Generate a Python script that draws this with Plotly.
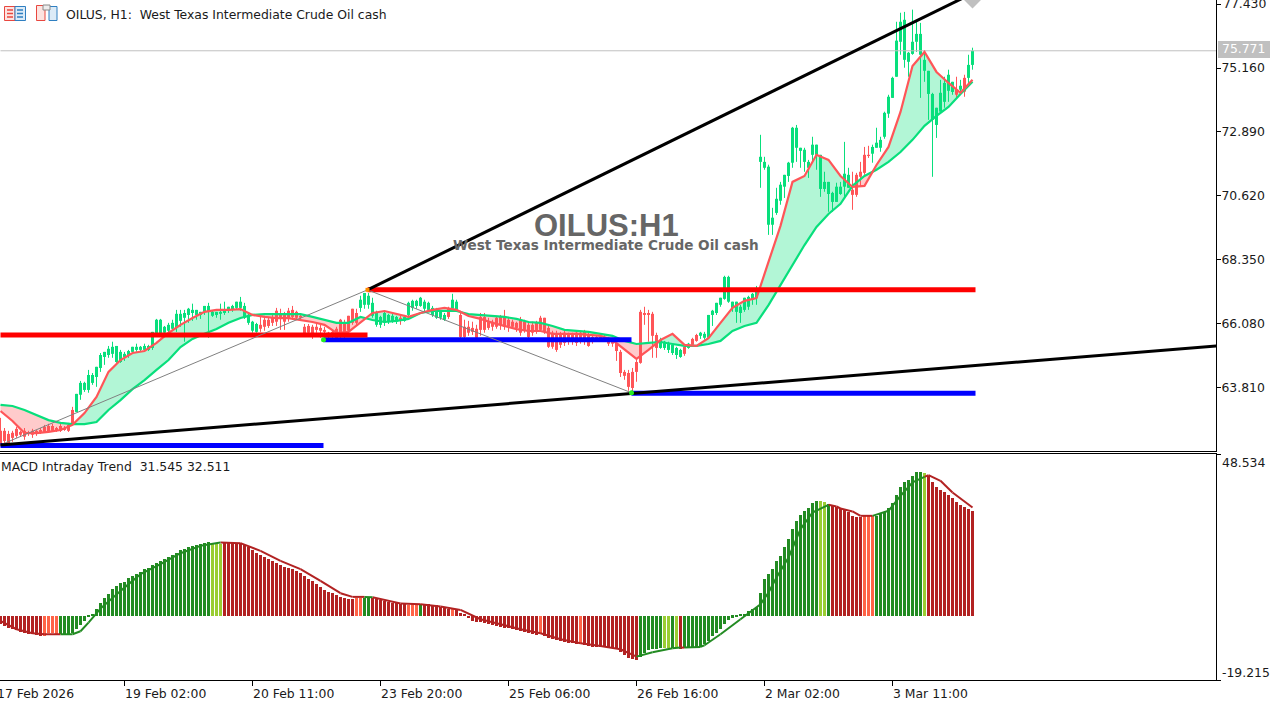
import plotly.graph_objects as go

# OILUS H1 candles, one entry per bar
open_p = [62.29,62.29,62.18,62.22,62.36,62.25,62.29,62.22,62.29,62.29,
62.32,62.43,62.46,62.46,62.39,62.46,62.39,62.50,63.03,62.96,
63.57,63.74,63.74,63.99,64.20,64.52,64.91,64.98,65.02,64.73,
64.73,64.91,64.98,65.09,65.16,65.16,65.16,65.16,65.23,65.69,
65.73,65.77,65.84,65.91,65.94,66.19,66.30,66.40,66.47,66.40,
66.40,66.51,66.51,66.37,66.40,66.44,66.47,66.58,66.58,66.65,
66.65,66.30,66.12,65.84,65.80,66.05,66.23,66.23,66.30,66.55,
66.47,66.40,66.55,66.58,66.51,66.37,65.98,66.01,65.98,65.98,
65.94,65.87,65.77,65.80,65.91,66.23,66.12,66.37,66.62,66.47,
66.65,66.76,66.76,66.37,66.05,66.05,66.12,66.16,66.16,66.16,
66.30,66.19,66.40,66.65,66.72,66.72,66.62,66.58,66.40,66.30,
66.30,66.23,66.65,66.62,66.58,66.40,65.98,65.98,65.94,65.91,
66.33,66.33,66.16,66.16,66.30,66.33,66.33,66.23,66.16,66.12,
66.23,66.16,66.05,66.05,66.12,66.30,66.30,65.94,65.77,65.73,
65.69,65.77,65.69,65.69,65.77,65.77,65.80,65.69,65.62,65.62,
65.62,65.62,65.59,65.52,65.41,65.09,64.38,64.34,64.38,64.73,
66.51,66.47,66.47,66.44,65.69,65.23,65.23,65.16,65.05,64.98,
64.91,65.27,65.23,65.55,65.69,65.66,65.59,65.59,66.40,66.47,
66.76,66.97,66.87,66.65,66.51,66.47,66.58,66.69,66.94,67.01,
71.83,71.62,69.60,69.60,70.02,70.45,70.95,71.33,71.80,72.33,
72.22,71.83,71.62,72.08,72.08,70.87,70.87,70.69,70.41,70.41,
70.69,70.95,70.91,70.84,71.37,71.48,72.08,72.08,72.12,72.33,
72.33,72.72,73.54,74.10,74.85,76.09,75.45,75.38,75.66,76.09,
75.63,75.06,74.24,73.32,73.14,73.61,73.96,74.35,74.31,74.39,
74.39,74.81,74.81,75.27]
high_p = [62.75,62.39,62.29,62.29,62.43,62.29,62.39,62.29,62.36,62.32,
62.39,62.50,62.54,62.54,62.43,62.54,62.46,62.57,63.14,63.60,
64.06,64.03,64.45,64.34,64.56,65.05,65.09,65.30,65.45,65.30,
65.16,65.09,65.16,65.27,65.38,65.30,65.38,65.34,65.80,66.26,
66.26,66.01,66.12,66.23,66.58,66.58,66.58,66.65,66.80,66.58,
66.51,66.72,66.83,66.55,66.51,66.80,66.87,66.69,66.76,66.87,
67.04,66.83,66.47,66.19,66.12,66.33,66.37,66.30,66.47,66.65,
66.62,66.51,66.65,66.72,66.55,66.40,66.08,66.08,66.05,66.08,
66.05,65.98,65.80,65.87,65.98,66.26,66.23,66.37,66.62,66.62,
67.08,67.18,67.18,67.01,66.55,66.37,66.51,66.44,66.44,66.37,
66.37,66.40,66.87,66.94,66.94,67.04,66.94,66.87,66.72,66.65,
66.55,66.47,66.69,67.15,66.94,66.55,66.23,66.19,66.16,66.05,
66.47,66.47,66.30,66.23,66.37,66.40,66.58,66.33,66.23,66.16,
66.33,66.23,66.16,66.16,66.19,66.37,66.30,66.01,65.84,65.84,
65.80,65.84,65.77,65.77,65.84,65.80,65.87,65.77,65.69,65.69,
65.69,65.69,65.62,65.59,65.48,65.16,64.45,64.45,64.52,64.81,
66.58,66.69,66.58,66.51,65.77,65.59,65.48,65.45,65.34,65.27,
65.20,65.27,65.41,65.59,65.73,65.80,65.80,66.40,66.58,66.83,
67.01,67.79,67.79,66.87,66.87,66.76,67.01,67.08,67.18,67.43,
72.79,72.01,71.73,70.20,70.91,71.12,71.37,71.83,73.07,73.14,
72.33,72.33,71.90,72.72,72.44,72.08,71.48,71.12,70.77,71.09,
71.12,72.54,71.62,71.48,71.44,71.83,72.36,72.40,72.44,73.04,
72.72,73.61,74.21,74.85,76.80,77.12,77.15,75.73,77.23,76.80,
76.76,75.73,75.06,74.28,73.75,74.74,74.85,75.10,74.67,74.85,
74.74,74.92,75.63,75.88]
low_p = [61.76,61.76,61.72,61.90,62.04,62.08,61.97,62.11,62.04,62.11,
62.18,62.22,62.22,62.25,62.25,62.25,62.29,62.25,62.50,62.96,
63.39,63.67,63.64,63.92,63.85,64.38,64.63,64.88,64.88,64.70,
64.70,64.77,64.88,65.09,65.09,65.09,65.12,65.12,65.16,65.62,
65.69,65.69,65.77,65.87,65.80,65.98,65.45,66.12,66.19,66.23,
66.26,66.40,65.59,66.33,66.30,66.23,66.40,66.47,66.51,66.58,
66.55,66.26,66.05,65.77,65.77,65.80,65.84,65.94,66.01,66.01,
65.87,65.87,66.16,66.23,66.23,66.23,65.62,65.62,65.55,65.77,
65.59,65.55,65.52,65.52,65.48,65.52,65.48,65.77,66.05,66.05,
66.51,66.62,66.62,66.30,65.98,65.94,66.01,66.08,66.12,66.08,
66.05,66.16,66.30,66.55,66.62,66.69,66.51,66.55,66.33,66.26,
66.23,66.19,66.26,66.55,66.51,65.55,65.52,65.66,65.69,65.52,
65.66,65.77,65.87,65.84,65.91,65.87,65.87,65.80,65.91,65.80,
65.66,65.77,65.52,65.66,65.73,65.80,65.73,65.23,65.20,65.09,
65.23,65.30,65.34,65.34,65.30,65.38,65.34,65.27,65.38,65.45,
65.45,65.45,65.30,65.27,64.77,64.20,64.10,63.71,63.67,64.03,
64.67,66.05,65.45,64.88,64.88,65.20,65.16,65.05,64.98,64.84,
64.88,64.95,65.20,65.34,65.45,65.55,65.52,65.59,66.01,66.40,
66.69,66.94,66.83,66.51,66.12,66.12,66.51,66.58,66.76,66.76,
70.91,71.55,69.24,69.24,69.95,70.31,70.55,71.12,71.62,71.83,
71.62,71.48,71.26,71.83,71.55,70.59,70.77,70.06,70.06,70.41,
70.66,70.55,70.91,70.13,70.59,70.94,71.37,71.97,71.80,72.33,
72.19,72.65,73.39,74.10,74.85,75.63,75.17,74.85,75.63,75.73,
74.10,74.67,73.32,71.30,72.68,73.61,73.75,73.96,74.21,74.10,
74.21,74.14,74.56,75.10]
close_p = [61.86,61.93,61.79,62.04,62.11,62.15,62.08,62.18,62.15,62.22,
62.25,62.25,62.25,62.29,62.29,62.29,62.32,62.29,62.54,63.60,
63.99,63.99,64.27,64.27,64.56,64.98,65.09,65.20,65.27,65.30,
65.09,65.02,65.12,65.27,65.27,65.27,65.30,65.30,65.80,66.23,
66.23,65.98,66.05,66.12,66.44,66.44,66.47,66.62,66.58,66.58,
66.51,66.72,66.72,66.51,66.51,66.51,66.55,66.69,66.72,66.87,
66.87,66.72,66.40,66.16,66.08,65.91,65.98,66.01,66.12,66.16,
66.30,66.16,66.30,66.33,66.30,66.30,65.73,65.77,65.66,65.87,
65.84,65.80,65.73,65.69,65.55,65.69,65.73,65.84,66.12,66.12,
66.94,67.18,67.08,66.83,66.47,66.33,66.47,66.40,66.37,66.33,
66.19,66.33,66.83,66.90,66.90,67.01,66.87,66.83,66.65,66.58,
66.51,66.40,66.33,66.94,66.87,65.62,65.62,65.77,65.80,65.59,
65.87,65.87,65.94,65.98,65.98,66.05,65.98,66.01,65.98,65.94,
65.77,65.87,65.62,65.77,65.80,65.87,65.80,65.27,65.27,65.16,
65.34,65.41,65.45,65.48,65.41,65.45,65.45,65.30,65.48,65.52,
65.52,65.48,65.38,65.38,65.12,64.34,64.24,63.85,63.81,64.38,
64.70,66.40,66.40,65.66,65.23,65.52,65.45,65.41,65.34,65.23,
65.16,65.02,65.38,65.34,65.48,65.77,65.73,66.40,66.55,66.83,
67.01,67.75,67.75,66.87,66.87,66.69,67.01,67.04,67.15,67.22,
72.01,71.83,71.66,69.85,70.52,71.02,71.37,71.80,73.04,73.04,
72.33,72.26,71.83,72.44,72.44,72.08,71.12,71.12,70.73,70.95,
70.95,71.41,71.37,70.66,70.66,71.30,71.44,72.04,72.36,72.51,
72.61,73.57,74.14,74.81,76.13,76.80,76.87,75.70,76.09,76.37,
76.37,75.45,75.06,74.24,73.75,74.28,74.63,74.92,74.67,74.21,
74.53,74.32,75.27,75.77]

# the two moving averages, read every third bar
ma_bars = list(range(0, 244, 3))
ma_fast = [62.99,62.64,62.21,62.21,62.25,62.32,62.50,62.92,63.49,64.38,
64.80,65.05,65.12,65.41,65.76,66.05,66.29,66.51,66.58,66.58,
66.61,66.40,66.33,66.29,66.29,66.22,66.15,66.05,65.76,65.80,
66.15,66.47,66.54,66.43,66.33,66.47,66.58,66.65,66.58,66.36,
66.26,66.12,66.01,65.90,65.83,65.83,65.73,65.73,65.73,65.69,
65.66,65.51,65.19,64.84,65.16,65.51,65.73,65.34,65.30,65.58,
66.12,66.65,66.90,67.00,68.28,69.56,71.12,71.33,72.08,71.90,
71.33,70.94,70.98,71.72,72.36,73.60,75.23,75.73,75.02,74.63,
74.28,74.74]
ma_slow = [63.21,63.17,63.03,62.85,62.67,62.57,62.53,62.53,62.60,63.03,
63.38,63.77,64.09,64.45,64.80,65.26,65.55,65.73,65.90,66.12,
66.29,66.40,66.43,66.43,66.43,66.43,66.33,66.22,66.12,66.12,
66.33,66.22,66.15,66.19,66.26,66.47,66.54,66.54,66.54,66.43,
66.40,66.36,66.33,66.26,66.15,66.12,66.01,65.87,65.83,65.80,
65.73,65.66,65.48,65.37,65.41,65.44,65.37,65.30,65.30,65.37,
65.48,65.83,66.01,66.12,66.75,67.46,68.21,68.88,69.52,69.98,
70.34,70.98,71.33,71.55,71.83,72.18,72.61,73.11,73.46,73.78,
74.24,74.67]

# MACD histogram, one entry per bar
macd_hist = [-2.5,-3.0,-3.5,-4.0,-4.3,-4.7,-5.0,-5.3,-5.5,-5.8,
-6.0,-6.0,-5.2,-5.2,-5.3,-5.5,-5.5,-5.5,-5.2,-4.0,
-2.7,-1.5,-0.3,0.3,2.2,3.8,5.3,6.5,8.0,9.0,
9.8,10.3,11.3,12.0,12.7,13.3,14.0,14.5,15.2,16.0,
16.5,17.2,17.8,18.4,19.0,19.7,20.2,20.8,21.0,21.3,
21.6,21.9,22.3,21.7,21.7,21.7,21.9,21.9,21.9,21.9,
21.9,21.3,20.7,19.7,19.0,18.4,17.8,17.2,16.6,16.0,
15.3,14.8,14.3,14.0,13.5,12.8,12.0,11.2,10.5,9.5,
8.7,7.8,7.2,6.8,6.3,5.8,5.3,5.0,5.0,5.5,
5.5,5.5,5.5,5.3,5.1,4.8,4.5,4.2,4.0,3.8,
3.5,3.5,3.2,3.5,3.5,3.5,3.5,3.5,3.3,3.2,
2.8,2.5,2.2,2.0,1.8,1.0,0.5,-0.7,-1.5,-1.8,
-1.8,-2.2,-2.5,-2.8,-3.0,-3.2,-3.5,-3.7,-4.0,-4.2,
-4.5,-4.8,-5.2,-5.5,-5.8,-5.5,-6.0,-6.5,-7.0,-7.2,
-7.5,-7.8,-8.0,-8.2,-8.5,-8.5,-8.8,-9.0,-9.2,-9.3,
-9.3,-9.3,-9.5,-9.7,-10.0,-10.7,-11.8,-12.7,-13.0,-13.2,
-12.2,-11.0,-10.3,-10.0,-9.8,-9.7,-9.7,-9.5,-9.5,-9.5,
-9.8,-9.6,-9.5,-9.5,-9.5,-9.2,-8.5,-7.5,-6.0,-5.2,
-4.0,-2.3,-1.2,-0.5,-0.2,0.3,0.7,1.5,2.2,2.8,
7.0,11.0,12.5,14.2,16.5,18.0,20.8,23.2,26.2,28.5,
30.2,31.3,32.2,33.8,34.3,34.3,34.0,33.5,32.8,32.5,
32.2,31.7,31.0,30.0,29.7,29.5,29.8,29.8,29.8,30.0,
30.4,31.0,32.2,33.8,36.2,38.5,40.0,40.7,41.8,43.0,
43.0,42.8,42.0,40.0,38.7,37.8,37.2,36.3,35.2,34.2,
33.2,32.5,32.0,31.545]
# r falling, o falling weaker, g rising, y rising weaker
hist_codes = ("r"*11 + "o"*4 + "g"*38 + "y"*3 + "r"*33 + "o"*2 + "g"*2 + "r"*9 + "o"*3 + "g" +
              "r"*7 + "o" + "r"*21 + "o" + "r"*9 + "o" + "r"*14 + "g"*6 + "yy" + "g" + "y" + "r" +
              "g"*34 + "yy" + "g" + "r"*8 + "o"*3 + "g"*12 + "y" + "r"*12)
hist_palette = {"r": "#B22222", "o": "#FF6347", "g": "#228B22", "y": "#9ACD32"}

signal_bars = [0,4,8,11,15,18,20,22,25,30,35,40,45,50,55,60,65,70,75,80,85,88,91,93,100,105,
               110,115,120,125,130,135,140,145,150,155,159,163,168,170,171,175,176,180,185,190,
               192,194,197,200,203,207,209,210,213,215,218,222,225,228,231,232,235,238,243]
signal_vals = [-1.5,-4.0,-5.2,-5.5,-5.5,-5.5,-4.6,-2.0,2.2,7.5,12.5,15.5,18.8,21.0,22.0,21.8,19.5,16.5,14.0,10.5,6.8,5.7,5.7,5.6,3.7,3.5,
               2.8,1.8,-1.0,-2.5,-4.0,-5.2,-7.0,-8.2,-9.0,-10.0,-12.2,-10.9,-9.7,-9.5,-9.5,-9.3,-8.8,-5.5,-1.0,3.5,
               7.0,11.5,17.5,26.0,31.0,33.3,32.8,32.2,31.3,30.0,30.0,31.5,36.0,40.0,41.7,42.2,40.5,37.0,32.511]
signal_green_spans = [(15, 55), (91, 93), (159, 170), (171, 207), (218, 231)]

price_ticks = [77.430, 75.160, 72.890, 70.620, 68.350, 66.080, 63.810]
price_labels = ["77.430", "75.160", "72.890", "70.620", "68.350", "66.080", "63.810"]
macd_ticks = [48.534, -19.215]
macd_labels = ["48.534", "-19.215"]
time_bars = [-1, 31, 63, 95, 127, 159, 191, 223]
time_labels = ["17 Feb 2026", "19 Feb 02:00", "20 Feb 11:00", "23 Feb 20:00",
               "25 Feb 06:00", "26 Feb 16:00", "2 Mar 02:00", "3 Mar 11:00"]
last_price = 75.771

# analysis objects drawn on the chart: (bar from, bar to, price)
red_levels = [(0, 91.75, 65.69), (91.75, 243.75, 67.29)]
blue_levels = [(0, 80.75, 61.77), (80.75, 157.75, 65.52), (157.75, 243.75, 63.62)]
zigzag_bars = [0, 91.75, 157.75]
zigzag_prices = [61.79, 67.29, 63.64]
trend_up_bars = [91.75, 243.75]
trend_up_prices = [67.29, 77.86]
trend_low_bars = [0, 304]
trend_low_prices = [61.79, 65.30]

GREEN = "#08DF7C"
RED = "#FF5558"
FONT = "DejaVu Sans"
TEXT_SIZE = 12.4
X_RANGE = [-0.125, 303.875]
PLOT_W, PLOT_H = 1216, 680


def px(x):
    return x / PLOT_W


def py(y):
    return 1 - y / PLOT_H


def segments(bars, lows, highs):
    xs, ys = [], []
    for b, lo, hi in zip(bars, lows, highs):
        xs += [b, b, None]
        ys += [lo, hi, None]
    return xs, ys


fig = go.Figure()

# band between the averages, split where they cross
runs = []
cur = [(ma_bars[0], ma_fast[0], ma_slow[0])]
for k in range(1, len(ma_bars)):
    d0 = ma_fast[k - 1] - ma_slow[k - 1]
    d1 = ma_fast[k] - ma_slow[k]
    if (d0 >= 0) != (d1 >= 0):
        t = d0 / (d0 - d1)
        xc = ma_bars[k - 1] + t * (ma_bars[k] - ma_bars[k - 1])
        yc = ma_fast[k - 1] + t * (ma_fast[k] - ma_fast[k - 1])
        cur.append((xc, yc, yc))
        runs.append(cur)
        cur = [(xc, yc, yc)]
    cur.append((ma_bars[k], ma_fast[k], ma_slow[k]))
runs.append(cur)
for run in runs:
    up = sum(r[1] - r[2] for r in run) > 0
    fig.add_trace(go.Scatter(
        x=[r[0] for r in run] + [r[0] for r in run[::-1]],
        y=[r[1] for r in run] + [r[2] for r in run[::-1]],
        mode="none", fill="toself", fillcolor="#B2F6D6" if up else "#FFCBCB",
        xaxis="x", yaxis="y"))

# candles: wick and body as separate line pieces so they sit above the band
for name, col in (("up", GREEN), ("down", RED)):
    idx = [i for i in range(len(open_p)) if (close_p[i] >= open_p[i]) == (name == "up")]
    wx, wy = segments(idx, [low_p[i] for i in idx], [high_p[i] for i in idx])
    bx, by = segments(idx, [open_p[i] for i in idx], [close_p[i] for i in idx])
    fig.add_trace(go.Scatter(x=wx, y=wy, mode="lines", line=dict(color=col, width=1),
                             connectgaps=False, xaxis="x", yaxis="y"))
    fig.add_trace(go.Scatter(x=bx, y=by, mode="lines", line=dict(color=col, width=3),
                             connectgaps=False, xaxis="x", yaxis="y"))

fig.add_trace(go.Scatter(x=[0, 304], y=[last_price, last_price], mode="lines",
                         line=dict(color="#C0C0C0", width=1), xaxis="x", yaxis="y"))
fig.add_trace(go.Scatter(x=ma_bars, y=ma_slow, mode="lines", line=dict(color=GREEN, width=2.2),
                         xaxis="x", yaxis="y"))
fig.add_trace(go.Scatter(x=ma_bars, y=ma_fast, mode="lines", line=dict(color=RED, width=2.2),
                         xaxis="x", yaxis="y"))

for levels, col in ((blue_levels, "#0000FF"), (red_levels, "#FF0000")):
    for x0, x1, p in levels:
        fig.add_trace(go.Scatter(x=[x0, x1], y=[p, p], mode="lines",
                                 line=dict(color=col, width=5), xaxis="x", yaxis="y"))

fig.add_trace(go.Scatter(x=zigzag_bars, y=zigzag_prices, mode="lines",
                         line=dict(color="#808080", width=1), xaxis="x", yaxis="y"))
fig.add_trace(go.Scatter(x=trend_low_bars, y=trend_low_prices, mode="lines",
                         line=dict(color="#000000", width=3), xaxis="x", yaxis="y"))
fig.add_trace(go.Scatter(x=trend_up_bars, y=trend_up_prices, mode="lines",
                         line=dict(color="#000000", width=3), xaxis="x", yaxis="y"))
fig.add_trace(go.Scatter(x=[80.75, 157.75], y=[65.52, 63.64], mode="markers",
                         marker=dict(color="#22EE22", size=5), xaxis="x", yaxis="y"))
fig.add_trace(go.Scatter(x=[91.75], y=[67.29], mode="markers",
                         marker=dict(color="#FF8C00", size=4, symbol="square"), xaxis="x", yaxis="y"))
fig.add_trace(go.Scatter(x=[243], y=[77.57], mode="markers",
                         marker=dict(color="#C0C0C0", size=13, symbol="diamond"), xaxis="x", yaxis="y"))

# MACD pane
fig.add_trace(go.Bar(x=list(range(len(macd_hist))), y=macd_hist, width=0.75,
                     marker=dict(color=[hist_palette[c] for c in hist_codes], line=dict(width=0)),
                     xaxis="x2", yaxis="y2"))
for green, col in ((False, "#B22222"), (True, "#228B22")):
    sx, sy = [], []
    for k in range(len(signal_bars) - 1):
        mid = (signal_bars[k] + signal_bars[k + 1]) / 2
        if any(a <= mid <= b for a, b in signal_green_spans) == green:
            sx += [signal_bars[k], signal_bars[k + 1], None]
            sy += [signal_vals[k], signal_vals[k + 1], None]
    fig.add_trace(go.Scatter(x=sx, y=sy, mode="lines", line=dict(color=col, width=2),
                             xaxis="x2", yaxis="y2"))

text_font = dict(family=FONT, size=TEXT_SIZE, color="#1A1A1A")
ann = [
    dict(x=px(65), y=py(14), text="OILUS, H1:  West Texas Intermediate Crude Oil cash", xanchor="left"),
    dict(x=0, y=py(466), text="MACD Intraday Trend  31.545 32.511", xanchor="left"),
    # plotly drops a tick label that pokes past the top edge, so this one is placed by hand
    dict(x=px(1222), y=py(4), text=price_labels[0], xanchor="left"),
    dict(x=px(1221), y=py(462), text=macd_labels[0], xanchor="left"),
    dict(x=px(1221), y=py(672), text=macd_labels[1], xanchor="left"),
]
for b, lab in zip(time_bars, time_labels):
    ann.append(dict(x=px(4 * b), y=py(693), text=lab, xanchor="left"))
annotations = [dict(a, xref="paper", yref="paper", showarrow=False, yanchor="middle",
                    borderpad=0, font=text_font) for a in ann]
annotations.append(dict(x=px(1221), y=py(49), xref="paper", yref="paper", text="75.771", showarrow=False,
                        xanchor="left", yanchor="middle", borderpad=0,
                        font=dict(family=FONT, size=TEXT_SIZE, color="#FFFFFF")))
annotations.append(dict(x=px(606), y=py(226), xref="paper", yref="paper", text="<b>OILUS:H1</b>",
                        showarrow=False, xanchor="center", yanchor="middle",
                        font=dict(family="Liberation Sans", size=31, color="#666666")))
annotations.append(dict(x=px(606), y=py(245), xref="paper", yref="paper",
                        text="<b>West Texas Intermediate Crude Oil cash</b>",
                        showarrow=False, xanchor="center", yanchor="middle",
                        font=dict(family="DejaVu Sans", size=13.6, color="#666666")))


def box(x0, y0, x1, y1, line=None, fill=None, width=1):
    return dict(type="rect", xref="paper", yref="paper", x0=px(x0), x1=px(x1), y0=py(y0), y1=py(y1),
                line=dict(color=line, width=width if line else 0), fillcolor=fill, layer="above")


shapes = [box(1218, 41, 1270, 58, fill="#C0C0C0")]
# toolbar icons
shapes += [box(4.5, 6.5, 15, 20.5, line="#E8473F", fill="#FDE3E0"), box(15, 6.5, 25.5, 20.5, line="#2F7FC1", fill="#DCEBF7")]
for yy in (10, 13.5, 17):
    shapes.append(dict(type="line", xref="paper", yref="paper", x0=px(7), x1=px(13), y0=py(yy), y1=py(yy),
                       line=dict(color="#E8473F", width=1.5), layer="above"))
    shapes.append(dict(type="line", xref="paper", yref="paper", x0=px(17), x1=px(23), y0=py(yy), y1=py(yy),
                       line=dict(color="#2F7FC1", width=1.5), layer="above"))
shapes += [box(36.5, 5.5, 45, 20.5, line="#E8473F", fill="#FDE3E0"), box(49, 6.5, 57, 20.5, line="#2F7FC1", fill="#DCEBF7"),
           box(43, 5, 50, 10, line="#8A8A8A", fill="#EDEDED")]

axis_common = dict(showgrid=False, zeroline=False, showline=True, linecolor="#000000", linewidth=1)
fig.update_layout(
    width=1284, height=703, margin=dict(l=0, r=68, t=0, b=23),
    paper_bgcolor="#FFFFFF", plot_bgcolor="#FFFFFF", showlegend=False, hovermode=False,
    bargap=0, annotations=annotations, shapes=shapes,
    xaxis=dict(domain=[0, 1], range=X_RANGE, anchor="y", showticklabels=False, ticks="", **axis_common),
    xaxis2=dict(domain=[0, 1], range=X_RANGE, anchor="y2", mirror=True, showticklabels=False,
                tickmode="array", tickvals=time_bars[1:], ticks="outside", ticklen=5,
                tickcolor="#000000", **axis_common),
    yaxis=dict(domain=[229 / 680, 1], range=[61.574, 77.572], anchor="x", side="right",
               tickmode="array", tickvals=price_ticks, ticktext=price_labels, ticks="outside", ticklen=4,
               ticklabelstandoff=-2, tickcolor="#000000",
               tickfont=dict(family=FONT, size=TEXT_SIZE, color="#1A1A1A"), **axis_common),
    yaxis2=dict(domain=[0, 226 / 680], range=[-19.215, 48.534], anchor="x2", side="right",
                tickmode="array", tickvals=macd_ticks, showticklabels=False, ticks="outside", ticklen=4,
                tickcolor="#000000", **axis_common),
)

# the page has a default body margin that would push the chart off its pixel grid
fig.write_html("out.html", config={"displayModeBar": False},
               post_script="document.body.style.margin='0';document.body.style.overflow='hidden';")
